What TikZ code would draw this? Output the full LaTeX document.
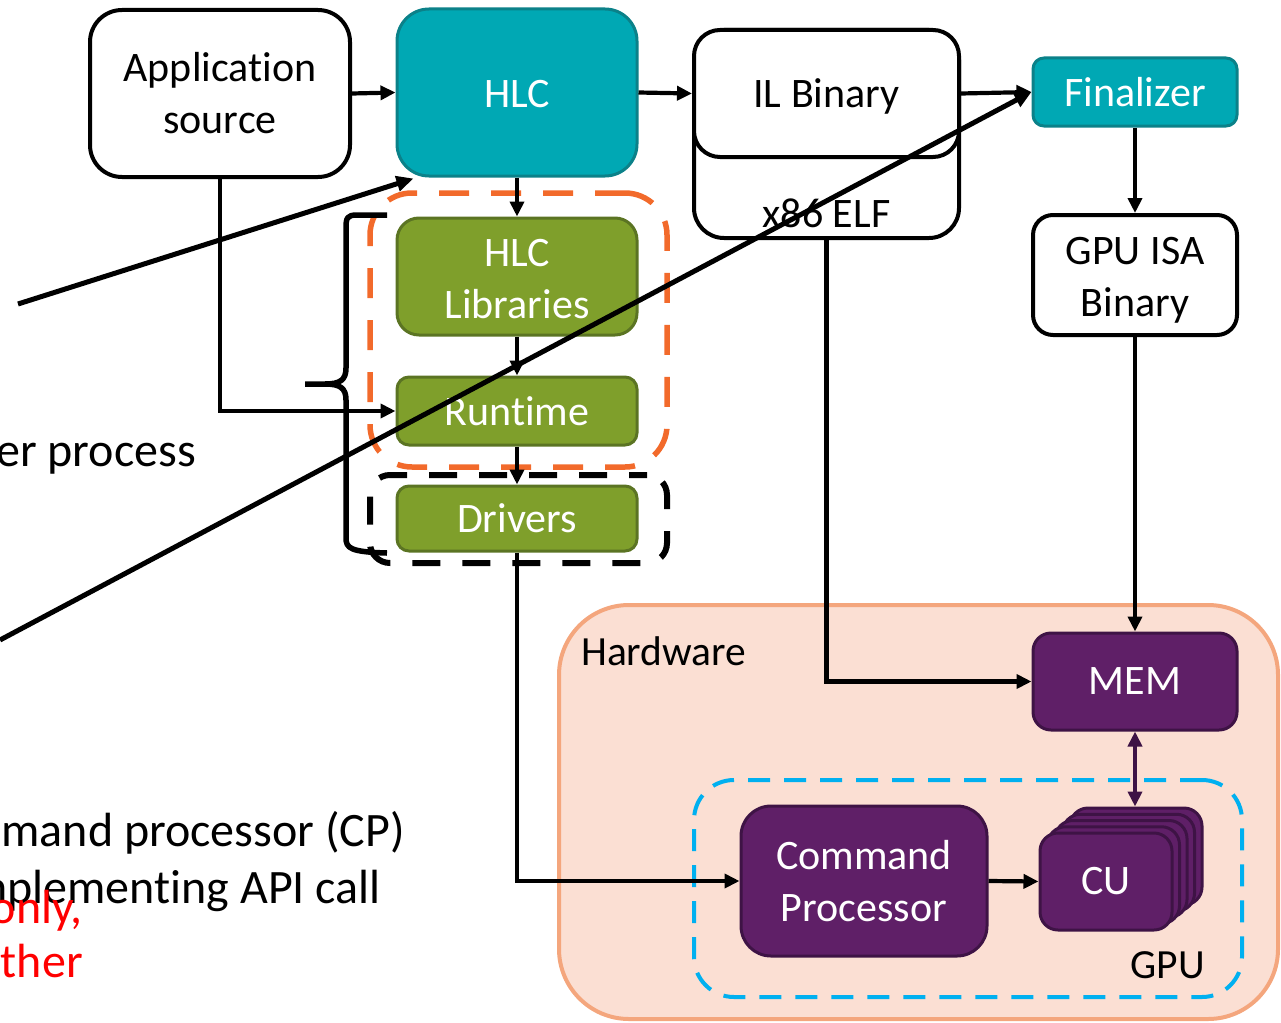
\documentclass[tikz,border=0pt]{standalone}
\usepackage{fontspec}
\setmainfont[Ligatures=NoCommon]{Carlito}
\usetikzlibrary{arrows.meta,calc}
\definecolor{tealF}{HTML}{00A8B4}
\definecolor{tealD}{HTML}{0B8189}
\definecolor{greenF}{HTML}{7F9F2B}
\definecolor{greenD}{HTML}{5B7423}
\definecolor{purpF}{HTML}{5F1F67}
\definecolor{purpD}{HTML}{3E1345}
\definecolor{hwF}{HTML}{FBDFD3}
\definecolor{hwD}{HTML}{F4A67D}
\definecolor{orangeD}{HTML}{F26A2B}
\definecolor{cyanD}{HTML}{00B0F0}
\begin{document}
\begin{tikzpicture}[x=1pt,y=-1pt,
  every node/.style={inner sep=0pt, align=center, font=\fontsize{42}{52}\selectfont},
  whitebox/.style={draw=black, fill=white, line width=4pt},
  tealbox/.style={draw=tealD, fill=tealF, line width=3pt, text=white},
  greenbox/.style={draw=greenD, fill=greenF, line width=3pt, text=white},
  purpbox/.style={draw=purpD, fill=purpF, line width=3pt, text=white},
  conn/.style={line width=4.2pt, -{Triangle[length=15pt,width=14pt]}},
  slash/.style={line width=5pt, -{Triangle[length=17pt,width=15pt]}},
  side/.style={font=\fontsize{48}{58}\selectfont, anchor=base east}
]
\useasboundingbox (0,0) rectangle (1281,1022);
\clip (0,0) rectangle (1281,1022);

% hardware region and GPU boundary
\node[draw=hwD, fill=hwF, line width=4pt, rounded corners=70pt,
      minimum width=719pt, minimum height=414pt] (hw) at (918.5,812) {};
\node[anchor=base west, font=\fontsize{41.5}{50}\selectfont] (hwlabel) at (581,665) {Hardware};
\node[draw=cyanD, line width=4pt, dash pattern=on 22pt off 14pt, rounded corners=40pt,
      minimum width=548pt, minimum height=217pt] (gpu) at (968,888.5) {};
\node[anchor=base east, font=\fontsize{41.5}{50}\selectfont] (gpulabel) at (1205,978) {GPU};

% software stack groupings
\node[draw=orangeD, line width=5.5pt, dash pattern=on 30pt off 22pt, rounded corners=42pt,
      minimum width=297pt, minimum height=274pt] (user) at (518.5,330) {};
\node[draw=black, line width=6pt, dash pattern=on 28pt off 22pt, dash phase=10pt, rounded corners=20pt,
      minimum width=297pt, minimum height=88pt] (kern) at (518.5,519) {};

% top row
\node[whitebox, rounded corners=32pt, minimum width=260pt, minimum height=167pt] (app) at (220,93.5) {Application\\source};
\node[tealbox, rounded corners=32pt, minimum width=240pt, minimum height=167pt] (hlc) at (517,92.5) {};
\node[text=white] (hlct) at (517,94) {HLC};
\node[whitebox, rounded corners=30pt, minimum width=265pt, minimum height=208pt] (elf) at (826.5,134) {};
\node[anchor=base] (elft) at (826.5,227) {x86 ELF};
\node[whitebox, rounded corners=26pt, minimum width=265pt, minimum height=127pt] (il) at (826.5,93.5) {};
\node (ilt) at (826.5,96) {IL Binary};
\node[tealbox, rounded corners=11pt, minimum width=204pt, minimum height=68pt] (fin) at (1135,92) {Finalizer};
\node[whitebox, rounded corners=20pt, minimum width=204pt, minimum height=120pt] (isa) at (1135,275) {};
\node (isat) at (1135,280) {GPU ISA\\Binary};

% software stack
\node[greenbox, rounded corners=22pt, minimum width=240pt, minimum height=117pt] (lib) at (517,276.5) {};
\node[text=white] (libt) at (517,279) {HLC\\Libraries};
\node[greenbox, rounded corners=12pt, minimum width=240pt, minimum height=68pt] (rt) at (517,411) {Runtime};
\node[greenbox, rounded corners=12pt, minimum width=240pt, minimum height=65pt] (drv) at (517,518.5) {Drivers};

% hardware blocks
\node[purpbox, rounded corners=18pt, minimum width=204pt, minimum height=97pt] (mem) at (1135,681.5) {MEM};
\node[purpbox, rounded corners=30pt, minimum width=246pt, minimum height=150pt] (cp) at (864,881) {Command\\Processor};
\foreach \i in {4,3,2,1} {
  \node[purpbox, rounded corners=18pt, minimum width=132pt, minimum height=97pt]
    (cu\i) at ({1106+7.5*\i},{881.5-6.25*\i}) {};
}
\node[purpbox, rounded corners=18pt, minimum width=132pt, minimum height=97pt] (cu) at (1106,881.5) {CU};

% brace around the software stack
\draw[line width=5.5pt, line join=round]
  (387,215) -- (357,215) .. controls (347,215) and (346,218) .. (346,228)
  -- (346,368) .. controls (346,380) and (340,384) .. (325,384)
  -- (305,384);
\draw[line width=5.5pt, line join=round]
  (325,384) .. controls (340,384) and (346,388) .. (346,400)
  -- (346,538) .. controls (346,548) and (350,552) .. (387,553);

% connectors
\draw[conn] (app.east) -- (hlc.west);
\draw[conn] (hlc.east) -- (il.west);
\draw[conn] (il.east) -- (fin.west);
\draw[conn] (fin.south) -- (isa.north);
\draw[conn] (isa.south) -- (mem.north);
\draw[conn] (hlc.south) -- (lib.north);
\draw[conn] (lib.south) -- (rt.north);
\draw[conn] (rt.south) -- (drv.north);
\draw[conn] (app.south) |- (rt.west);
\draw[conn] (elf.south) |- (mem.west);
\draw[conn] (drv.south) |- (cp.west);
\draw[conn] (cp.east) -- (cu.west);
\draw[line width=4.2pt, draw=purpD, {Triangle[length=15pt,width=14pt]}-{Triangle[length=15pt,width=14pt]}]
  (mem.south) -- (mem.south |- cu4.north);

% side notes
\node[side] (n1) at (196,466) {er process};
\node[side] (n2) at (405,846) {mand processor (CP)};
\node[side] (n3) at (381,903) {mplementing API call};
\node[side, text=red] (n4) at (83,923) {only,};
\node[side, text=red] (n5) at (83,977) {ther};

% two long pointer lines
\coordinate (p1) at (18,304);
\coordinate (p2) at (0,640);
\draw[slash] (p1) -- ($(hlc.south west)+(18,1)$);
\draw[slash] (p2) -- (fin.west);
\end{tikzpicture}
\end{document}
